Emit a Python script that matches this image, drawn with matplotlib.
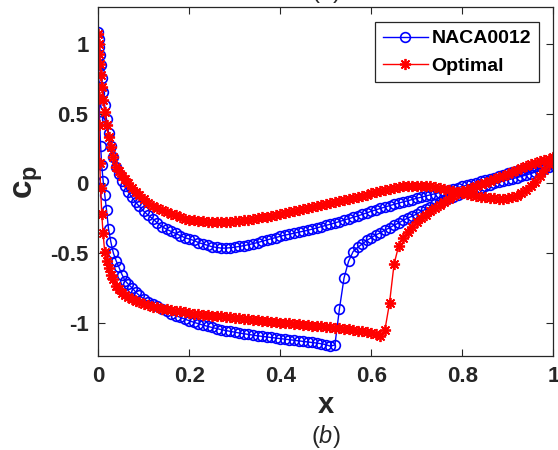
import matplotlib
matplotlib.use('Agg')
import matplotlib.pyplot as plt

# estaciones en x (compartidas por ambas superficies y ambos perfiles)
x_st = [0, 0.0005, 0.0015, 0.003, 0.005, 0.0075, 0.0105, 0.014, 0.018, 0.0225, 0.0275,
        0.033, 0.039, 0.045, 0.052, 0.059, 0.066, 0.074, 0.082, 0.09, 0.1,
        0.11, 0.12, 0.13, 0.14, 0.15, 0.16, 0.17, 0.18, 0.19, 0.20,
        0.21, 0.22, 0.23, 0.24, 0.25, 0.26, 0.27, 0.28, 0.29, 0.30,
        0.31, 0.32, 0.33, 0.34, 0.35, 0.36, 0.37, 0.38, 0.39, 0.40,
        0.41, 0.42, 0.43, 0.44, 0.45, 0.46, 0.47, 0.48, 0.49, 0.50,
        0.51, 0.52, 0.53, 0.54, 0.55, 0.56, 0.57, 0.58, 0.59, 0.60,
        0.61, 0.62, 0.63, 0.64, 0.65, 0.66, 0.67, 0.68, 0.69, 0.70,
        0.71, 0.72, 0.73, 0.74, 0.75, 0.76, 0.77, 0.78, 0.79, 0.80,
        0.81, 0.82, 0.83, 0.84, 0.85, 0.86, 0.87, 0.88, 0.89, 0.90,
        0.91, 0.92, 0.93, 0.94, 0.95, 0.96, 0.97, 0.98, 0.99, 1.00]

# NACA0012 - extrados (succion, con choque)
cp_naca_up = [1.09, 0.80, 0.65, 0.45, 0.27, 0.13, 0.02, -0.08, -0.19, -0.33, -0.42,
              -0.50, -0.555, -0.60, -0.655, -0.70, -0.725, -0.75, -0.78, -0.805, -0.83,
              -0.85, -0.865, -0.88, -0.90, -0.92, -0.935, -0.95, -0.962, -0.975, -0.987,
              -0.998, -1.008, -1.018, -1.027, -1.035, -1.043, -1.05, -1.057, -1.063, -1.069,
              -1.075, -1.08, -1.085, -1.09, -1.095, -1.099, -1.103, -1.107, -1.111, -1.115,
              -1.119, -1.123, -1.127, -1.131, -1.135, -1.139, -1.143, -1.147, -1.152, -1.158,
              -1.17, -1.16, -0.90, -0.68, -0.56, -0.49, -0.46, -0.435, -0.41, -0.39,
              -0.37, -0.355, -0.335, -0.32, -0.30, -0.285, -0.265, -0.25, -0.235, -0.22,
              -0.20, -0.185, -0.17, -0.15, -0.135, -0.12, -0.105, -0.095, -0.08, -0.07,
              -0.06, -0.05, -0.04, -0.03, -0.02, -0.01, 0.0, 0.008, 0.016, 0.025,
              0.033, 0.042, 0.05, 0.06, 0.07, 0.08, 0.09, 0.10, 0.115, 0.13]

# NACA0012 - intrados
cp_naca_lo = [1.09, 1.04, 0.98, 0.92, 0.85, 0.76, 0.66, 0.56, 0.46, 0.36, 0.27,
              0.19, 0.12, 0.07, 0.02, -0.02, -0.065, -0.10, -0.135, -0.165, -0.20,
              -0.23, -0.255, -0.285, -0.31, -0.33, -0.345, -0.36, -0.375, -0.39, -0.40,
              -0.41, -0.425, -0.435, -0.445, -0.455, -0.46, -0.465, -0.465, -0.462, -0.458,
              -0.453, -0.447, -0.44, -0.433, -0.425, -0.416, -0.407, -0.398, -0.389, -0.38,
              -0.372, -0.365, -0.358, -0.351, -0.344, -0.337, -0.329, -0.32, -0.311, -0.302,
              -0.293, -0.284, -0.274, -0.264, -0.254, -0.244, -0.234, -0.223, -0.212, -0.2,
              -0.19, -0.18, -0.17, -0.16, -0.151, -0.142, -0.133, -0.125, -0.116, -0.107,
              -0.099, -0.09, -0.082, -0.074, -0.066, -0.057, -0.048, -0.039, -0.03, -0.022,
              -0.013, -0.004, 0.005, 0.014, 0.023, 0.032, 0.042, 0.052, 0.062, 0.072,
              0.081, 0.09, 0.099, 0.107, 0.115, 0.122, 0.129, 0.135, 0.14, 0.143]

# Optimo - extrados
cp_opt_up = [1.07, 0.62, 0.42, 0.15, -0.03, -0.22, -0.36, -0.49, -0.56, -0.61, -0.655,
             -0.69, -0.735, -0.76, -0.785, -0.80, -0.815, -0.83, -0.845, -0.855, -0.865,
             -0.875, -0.885, -0.89, -0.90, -0.905, -0.91, -0.915, -0.92, -0.925, -0.93,
             -0.935, -0.94, -0.943, -0.946, -0.95, -0.953, -0.956, -0.96, -0.963, -0.966,
             -0.97, -0.973, -0.976, -0.98, -0.983, -0.986, -0.99, -0.993, -0.996, -1.0,
             -1.003, -1.006, -1.01, -1.013, -1.016, -1.019, -1.022, -1.025, -1.028, -1.031,
             -1.034, -1.037, -1.04, -1.044, -1.048, -1.052, -1.057, -1.062, -1.068, -1.075,
             -1.085, -1.098, -1.05, -0.86, -0.58, -0.45, -0.39, -0.35, -0.31, -0.28,
             -0.25, -0.225, -0.20, -0.175, -0.155, -0.135, -0.11, -0.09, -0.07, -0.055,
             -0.045, -0.032, -0.02, -0.008, 0.005, 0.018, 0.03, 0.043, 0.056, 0.07,
             0.083, 0.097, 0.11, 0.125, 0.137, 0.148, 0.158, 0.168, 0.178, 0.19]

# Optimo - intrados
cp_opt_lo = [1.07, 1.0, 0.93, 0.86, 0.78, 0.69, 0.60, 0.51, 0.42, 0.33, 0.26,
             0.19, 0.12, 0.09, 0.055, 0.03, 0.0, -0.03, -0.06, -0.085, -0.115,
             -0.14, -0.16, -0.175, -0.19, -0.205, -0.22, -0.23, -0.245, -0.255, -0.26,
             -0.265, -0.27, -0.273, -0.276, -0.278, -0.279, -0.279, -0.278, -0.276, -0.273,
             -0.27, -0.265, -0.26, -0.255, -0.25, -0.244, -0.238, -0.232, -0.226, -0.22,
             -0.213, -0.206, -0.199, -0.192, -0.185, -0.178, -0.171, -0.164, -0.157, -0.15,
             -0.143, -0.136, -0.129, -0.122, -0.114, -0.106, -0.098, -0.09, -0.082, -0.072,
             -0.063, -0.055, -0.047, -0.04, -0.033, -0.027, -0.022, -0.019, -0.017, -0.016,
             -0.016, -0.018, -0.022, -0.027, -0.033, -0.04, -0.047, -0.055, -0.062, -0.07,
             -0.077, -0.084, -0.09, -0.096, -0.101, -0.105, -0.108, -0.11, -0.11, -0.107,
             -0.1, -0.088, -0.07, -0.048, -0.02, 0.012, 0.05, 0.095, 0.14, 0.185]

x_ticks = [0, 0.2, 0.4, 0.6, 0.8, 1]
x_tick_labels = ['0', '0.2', '0.4', '0.6', '0.8', '1']
y_ticks = [-1, -0.5, 0, 0.5, 1]
y_tick_labels = ['-1', '-0.5', '0', '0.5', '1']


def contorno(xs, up, lo):
    # recorrido: intrados de BS a BA, luego extrados de BA a BS
    xx = xs[::-1] + xs[1:]
    cc = lo[::-1] + up[1:]
    return xx, cc


plt.rcParams['font.family'] = ['Liberation Sans', 'DejaVu Sans']
plt.rcParams['mathtext.fontset'] = 'custom'
plt.rcParams['mathtext.rm'] = 'Liberation Sans'
plt.rcParams['mathtext.it'] = 'Liberation Sans:italic'
plt.rcParams['mathtext.bf'] = 'Liberation Sans:bold'
plt.rcParams['axes.unicode_minus'] = False

gris = '#262626'
fig = plt.figure(figsize=(5.58, 4.5), dpi=100)
ax = fig.add_axes([0.1762, 0.2089, 0.8154, 0.7749])

xb, cb = contorno(x_st, cp_naca_up, cp_naca_lo)
xr, cr = contorno(x_st, cp_opt_up, cp_opt_lo)
ax.plot(xb, cb, color='blue', lw=1.0, marker='o', ms=7, mfc='none', mew=1.2,
        label='NACA0012')
ax.plot(xr, cr, color='red', lw=1.0, marker=(8, 2, 0), ms=8, mew=1.3,
        label='Optimal')

ax.set_xlim(0, 1)
ax.set_ylim(-1.24, 1.265)
ax.set_xticks(x_ticks)
ax.set_xticklabels(x_tick_labels)
ax.set_yticks(y_ticks)
ax.set_yticklabels(y_tick_labels)
ax.tick_params(direction='in', top=True, right=True, length=5, width=0.8,
               colors=gris, labelsize=16, pad=7)
for lab in ax.get_xticklabels() + ax.get_yticklabels():
    lab.set_fontweight('bold')
for s in ax.spines.values():
    s.set_color(gris)
    s.set_linewidth(0.9)

ax.set_xlabel('x', fontsize=21, fontweight='bold', color=gris, labelpad=3)
ax.set_ylabel(r'$\mathbf{c_p}$', fontsize=24, color=gris, labelpad=4)

leg = ax.legend(loc='upper right', bbox_to_anchor=(0.9686, 0.958), borderaxespad=0,
                fancybox=False, framealpha=1, edgecolor=gris, numpoints=1,
                prop={'weight': 'bold', 'size': 14}, handlelength=2.3,
                handletextpad=0.2, borderpad=0.4, labelspacing=0.5)
leg.get_frame().set_linewidth(0.9)

fig.text(325.8 / 558, 1 - 437 / 450, r'$(b)$', ha='center', va='center',
         fontsize=17, color=gris)
fig.text(325.8 / 558, 1 + 8 / 450, r'$(a)$', ha='center', va='center',
         fontsize=17, color=gris)

fig.savefig('out.png', dpi=100)
